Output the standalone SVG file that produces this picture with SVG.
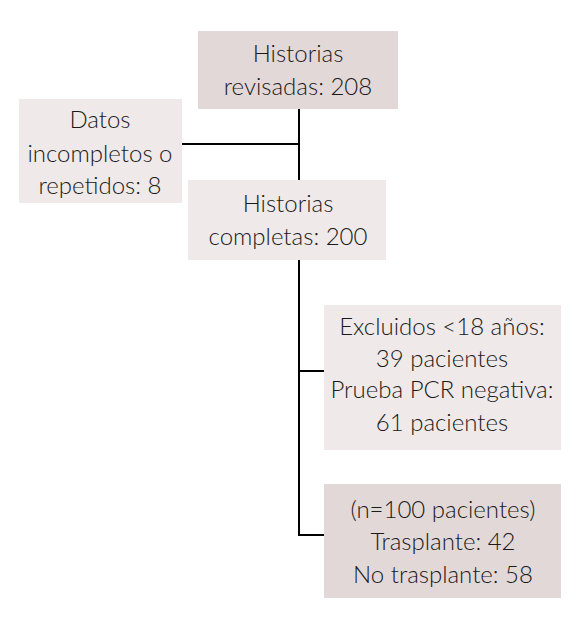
<svg xmlns="http://www.w3.org/2000/svg" width="588" height="622" viewBox="0 0 588 622">
<style>
text{font-family:"Lato","Noto Sans","Liberation Sans",sans-serif;font-weight:300;font-size:24px;fill:#1a1a1a;text-anchor:middle}
.dark{fill:#e3d8d8}
.light{fill:#efe9e9}
.conn{stroke:#000;stroke-width:2;fill:none}
</style>
<rect width="588" height="622" fill="#fff"/>
<g id="connectors">
<path class="conn" d="M299 109V180M182 144H299M299 260V535H324M299 371H324"/>
</g>
<g id="n1"><rect class="dark" x="198" y="31" width="200" height="78"/>
<text x="298" y="62">Historias</text><text x="298" y="95">revisadas: 208</text></g>
<g id="n2"><rect class="light" x="19" y="99" width="163" height="104"/>
<text x="100" y="128">Datos</text><text x="100" y="162">incompletos o</text><text x="100" y="194">repetidos: 8</text></g>
<g id="n3"><rect class="light" x="188" y="180" width="198" height="80"/>
<text x="288" y="212">Historias</text><text x="288" y="245">completas: 200</text></g>
<g id="n4"><rect class="light" x="324" y="305" width="237" height="145"/>
<text x="442" y="335">Excluidos &lt;18 años:</text><text x="442" y="367">39 pacientes</text><text x="442" y="398">Prueba PCR negativa:</text><text x="442" y="431">61 pacientes</text></g>
<g id="n5"><rect class="dark" x="324" y="484" width="237" height="114"/>
<text x="443" y="518">(n=100 pacientes)</text><text x="443" y="550">Trasplante: 42</text><text x="443" y="583">No trasplante: 58</text></g>
</svg>
